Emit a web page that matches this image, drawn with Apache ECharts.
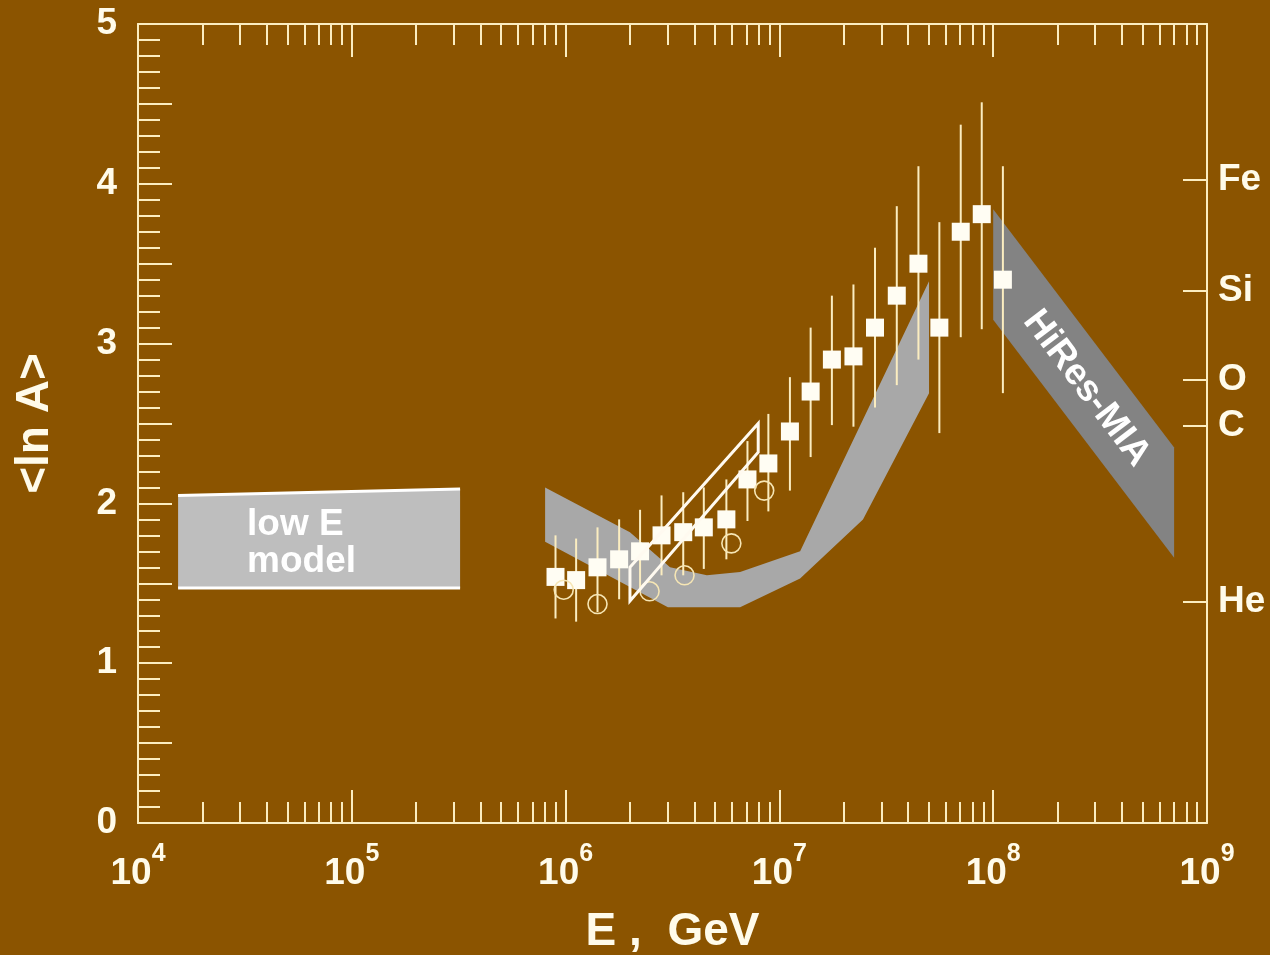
<!DOCTYPE html>
<html>
<head>
<meta charset="utf-8">
<script src="https://cdn.jsdelivr.net/npm/echarts@6/dist/echarts.min.js"></script>
<style>
  html, body { margin: 0; padding: 0; background: #8b5400; }
  #chart { width: 1270px; height: 955px; }
</style>
</head>
<body>
<div id="chart"></div>
<script>
// Mean logarithmic mass <ln A> versus primary energy E (GeV)

// measurements (filled squares) with their error bars
const squareE   = [8.97e5, 1.12e6, 1.41e6, 1.78e6, 2.23e6, 2.81e6, 3.55e6, 4.43e6, 5.65e6, 7.09e6, 8.88e6,
                   1.12e7, 1.40e7, 1.76e7, 2.22e7, 2.80e7, 3.54e7, 4.47e7, 5.60e7, 7.05e7, 8.84e7, 1.11e8];
const squareLnA = [1.54, 1.52, 1.60, 1.65, 1.70, 1.80, 1.82, 1.85, 1.90, 2.15, 2.25,
                   2.45, 2.70, 2.90, 2.92, 3.10, 3.30, 3.50, 3.10, 3.70, 3.81, 3.40];
const squareHi  = [1.80, 1.78, 1.85, 1.90, 1.96, 2.05, 2.07, 2.10, 2.15, 2.39, 2.56,
                   2.79, 3.10, 3.30, 3.37, 3.60, 3.86, 4.11, 3.76, 4.37, 4.51, 4.11];
const squareLo  = [1.28, 1.26, 1.32, 1.40, 1.45, 1.55, 1.55, 1.59, 1.65, 1.89, 1.95,
                   2.08, 2.29, 2.49, 2.48, 2.60, 2.74, 2.90, 2.44, 3.04, 3.09, 2.69];

// second measurement (open circles)
const circleE   = [9.8e5, 1.41e6, 2.47e6, 3.60e6, 5.96e6, 8.49e6];
const circleLnA = [1.46, 1.37, 1.45, 1.55, 1.75, 2.08];

// knee-region band (light grey)
const kneeUpperE   = [8.02e5, 2.0e6, 3.08e6, 4.58e6, 6.55e6, 1.25e7, 5.01e7];
const kneeUpperLnA = [2.10, 1.82, 1.60, 1.55, 1.57, 1.70, 3.39];
const kneeLowerE   = [8.02e5, 3.01e6, 6.55e6, 1.25e7, 2.46e7, 5.01e7];
const kneeLowerLnA = [1.76, 1.35, 1.35, 1.53, 1.90, 2.69];

// HiRes-MIA band (dark grey)
const hiresE        = [1.0e8, 7.02e8];
const hiresUpperLnA = [3.84, 2.35];
const hiresLowerLnA = [3.15, 1.66];

// low energy model box
const lowE_E        = [1.54e4, 3.21e5];
const lowE_UpperLnA = [2.05, 2.09];
const lowE_LowerLnA = [1.47, 1.47];

// open white band between 2 and 8 PeV
const openBandE        = [2.0e6, 7.96e6];
const openBandUpperLnA = [1.60, 2.50];
const openBandLowerLnA = [1.39, 2.32];

// axis ticks and labels
const decadeTicks = [1e4, 1e5, 1e6, 1e7, 1e8, 1e9];
const minorTicks = [];
decadeTicks.slice(0, -1).forEach(d => { for (let m = 2; m <= 9; m++) minorTicks.push(m * d); });
const elementNames = ['He', 'C', 'O', 'Si', 'Fe'];
const elementMassNumbers = [4, 12, 16, 28, 56];
const elementLnA = elementMassNumbers.map(a => Math.log(a));

const BG = '#8b5400';
const INK = '#fffbea';
const LINE = '#fbedc0';
const FONT = '"Liberation Sans", Arial, Helvetica, sans-serif';

const chart = echarts.init(document.getElementById('chart'), null, { renderer: 'canvas' });

function pointsOf(api, xsTop, ysTop, xsBot, ysBot) {
  const pts = [];
  xsTop.forEach((x, i) => pts.push(api.coord([x, ysTop[i]])));
  for (let i = xsBot.length - 1; i >= 0; i--) pts.push(api.coord([xsBot[i], ysBot[i]]));
  return pts;
}

function shapeSeries(z, renderItem) {
  return {
    type: 'custom', coordinateSystem: 'cartesian2d', xAxisIndex: 0, yAxisIndex: 0,
    z, silent: true, clip: false,
    data: [[1e6, 1]], encode: { x: 0, y: 1 },
    renderItem
  };
}

// frame axis with ticks only (no labels); used for the top edge and the minor log ticks
function frameXAxis(position, showLine, tickLength, ticks) {
  return {
    type: 'log', logBase: 10, min: 1e4, max: 1e9, position,
    axisLine: { show: showLine, onZero: false, lineStyle: { color: LINE, width: 2 } },
    axisTick: { show: true, inside: true, length: tickLength, customValues: ticks, lineStyle: { color: LINE, width: 2 } },
    axisLabel: { show: false }, splitLine: { show: false }
  };
}

const option = {
  backgroundColor: BG,
  animation: false,
  grid: { left: 138, right: 63, top: 24, bottom: 132, outerBoundsMode: 'none', containLabel: false },
  xAxis: [
    {
      type: 'log', logBase: 10, min: 1e4, max: 1e9, position: 'bottom',
      name: 'E ,  GeV', nameLocation: 'middle', nameGap: 86,
      nameTextStyle: { color: INK, fontSize: 46, fontWeight: 'bold', fontFamily: FONT },
      axisLine: { show: true, onZero: false, lineStyle: { color: LINE, width: 2 } },
      axisTick: { show: true, inside: true, length: 33, customValues: decadeTicks, lineStyle: { color: LINE, width: 2 } },
      axisLabel: {
        show: true, margin: 19, customValues: decadeTicks, showMinLabel: true, showMaxLabel: true,
        formatter: v => '{b|10}{sup|' + Math.round(Math.log10(v)) + '}',
        rich: {
          b:   { fontSize: 37, fontWeight: 'bold', fontFamily: FONT, color: INK, lineHeight: 50, verticalAlign: 'bottom' },
          sup: { fontSize: 25, fontWeight: 'bold', fontFamily: FONT, color: INK, lineHeight: 24, verticalAlign: 'top' }
        }
      },
      splitLine: { show: false }
    },
    frameXAxis('top', true, 33, decadeTicks),
    frameXAxis('bottom', false, 21, minorTicks),
    frameXAxis('top', false, 21, minorTicks)
  ],
  yAxis: [
    {
      type: 'value', min: 0, max: 5, interval: 0.5, position: 'left',
      name: '<ln A>', nameLocation: 'middle', nameRotate: 90, nameGap: 80,
      nameTextStyle: { color: INK, fontSize: 46, fontWeight: 'bold', fontFamily: FONT },
      axisLine: { show: true, onZero: false, lineStyle: { color: LINE, width: 2 } },
      axisTick: { show: true, inside: true, length: 34, lineStyle: { color: LINE, width: 2 } },
      minorTick: { show: true, splitNumber: 5, length: 22, lineStyle: { color: LINE, width: 2 } },
      axisLabel: {
        show: true, margin: 21, color: INK, fontSize: 37, fontWeight: 'bold', fontFamily: FONT,
        formatter: v => (Math.abs(v - Math.round(v)) < 1e-9 ? String(Math.round(v)) : '')
      },
      splitLine: { show: false }, minorSplitLine: { show: false }
    },
    {
      type: 'value', min: 0, max: 5, position: 'right',
      axisLine: { show: true, onZero: false, lineStyle: { color: LINE, width: 2 } },
      axisTick: { show: true, inside: true, length: 24, customValues: elementLnA, lineStyle: { color: LINE, width: 2 } },
      axisLabel: {
        show: true, margin: 11, customValues: elementLnA, color: INK, fontSize: 37, fontWeight: 'bold', fontFamily: FONT,
        formatter: v => {
          let best = 0;
          elementLnA.forEach((e, i) => { if (Math.abs(e - v) < Math.abs(elementLnA[best] - v)) best = i; });
          return elementNames[best];
        }
      },
      splitLine: { show: false }
    }
  ],
  series: [
    // low energy model box with its label
    shapeSeries(1, (params, api) => {
      const pts = pointsOf(api, lowE_E, lowE_UpperLnA, lowE_E, lowE_LowerLnA);
      const top = [pts[0], pts[1]];
      const bottom = [pts[3], pts[2]];
      const midY = (pts[0][1] + pts[3][1]) / 2;
      return {
        type: 'group',
        children: [
          { type: 'polygon', shape: { points: pts }, style: { fill: '#bebebe' } },
          { type: 'polyline', shape: { points: top }, style: { stroke: '#ffffff', lineWidth: 3, fill: null } },
          { type: 'polyline', shape: { points: bottom }, style: { stroke: '#ffffff', lineWidth: 3, fill: null } },
          {
            type: 'text', x: pts[0][0] + 69, y: midY + 2,
            style: {
              text: 'low E\nmodel', fill: '#ffffff', font: 'bold 37px ' + FONT,
              lineHeight: 37, align: 'left', verticalAlign: 'middle'
            }
          }
        ]
      };
    }),
    // knee band
    shapeSeries(1, (params, api) => ({
      type: 'polygon',
      shape: { points: pointsOf(api, kneeUpperE, kneeUpperLnA, kneeLowerE, kneeLowerLnA) },
      style: { fill: '#a8a8a8' }
    })),
    // HiRes-MIA band with its label along the band
    shapeSeries(1, (params, api) => {
      const pts = pointsOf(api, hiresE, hiresUpperLnA, hiresE, hiresLowerLnA);
      const cx = (pts[0][0] + pts[1][0] + pts[2][0] + pts[3][0]) / 4;
      const cy = (pts[0][1] + pts[1][1] + pts[2][1] + pts[3][1]) / 4;
      const angle = Math.atan2(pts[1][1] - pts[0][1], pts[1][0] - pts[0][0]);
      return {
        type: 'group',
        children: [
          { type: 'polygon', shape: { points: pts }, style: { fill: '#838383' } },
          {
            type: 'text', x: cx + 3, y: cy + 5, rotation: -angle,
            style: {
              text: 'HiRes-MIA', fill: '#ffffff', font: 'bold 37px ' + FONT,
              align: 'center', verticalAlign: 'middle'
            }
          }
        ]
      };
    }),
    // error bars
    {
      type: 'custom', coordinateSystem: 'cartesian2d', xAxisIndex: 0, yAxisIndex: 0, z: 3, silent: true,
      data: squareE.map((e, i) => [e, squareLo[i], squareHi[i]]),
      encode: { x: 0, y: [1, 2] },
      renderItem: (params, api) => {
        const lo = api.coord([api.value(0), api.value(1)]);
        const hi = api.coord([api.value(0), api.value(2)]);
        return {
          type: 'line',
          shape: { x1: lo[0], y1: lo[1], x2: hi[0], y2: hi[1] },
          style: { stroke: LINE, lineWidth: 2 }
        };
      }
    },
    // filled squares
    {
      type: 'scatter', xAxisIndex: 0, yAxisIndex: 0, z: 4, silent: true,
      symbol: 'rect', symbolSize: 18,
      itemStyle: { color: '#fffdf3', opacity: 1 },
      data: squareE.map((e, i) => [e, squareLnA[i]])
    },
    // open circles
    {
      type: 'scatter', xAxisIndex: 0, yAxisIndex: 0, z: 5, silent: true,
      symbol: 'circle', symbolSize: 19,
      itemStyle: { color: 'rgba(0,0,0,0)', borderColor: '#f6e6b4', borderWidth: 1.6, opacity: 1 },
      data: circleE.map((e, i) => [e, circleLnA[i]])
    },
    // open white band
    shapeSeries(6, (params, api) => ({
      type: 'polygon',
      shape: { points: pointsOf(api, openBandE, openBandUpperLnA, openBandE, openBandLowerLnA) },
      style: { fill: null, stroke: '#fffaf0', lineWidth: 3, lineJoin: 'miter' }
    }))
  ]
};

chart.setOption(option);
</script>
</body>
</html>
